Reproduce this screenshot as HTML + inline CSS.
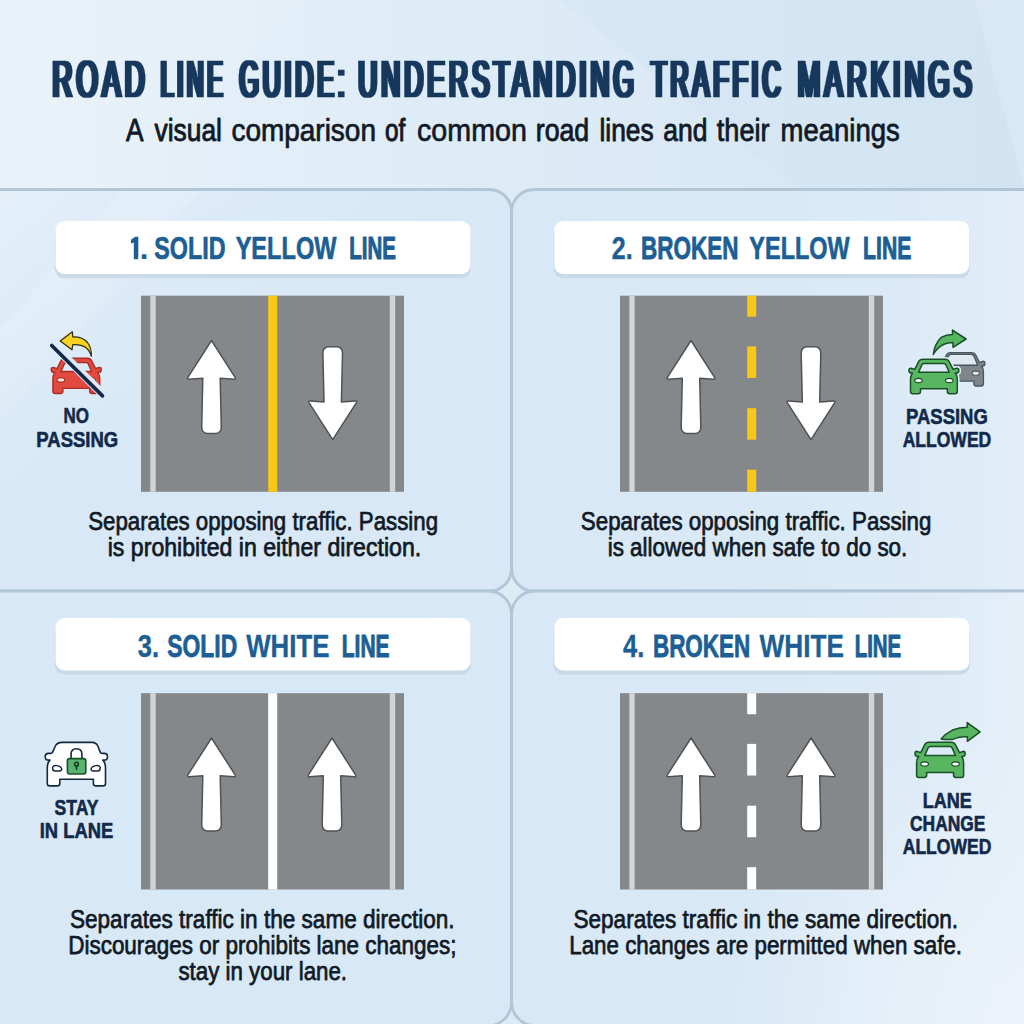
<!DOCTYPE html>
<html><head><meta charset="utf-8"><title>Road Line Guide</title>
<style>
html,body{margin:0;padding:0;background:#dcebf7;}
body{width:1024px;height:1024px;overflow:hidden;font-family:"Liberation Sans",sans-serif;}
svg{display:block;}
text{font-family:"Liberation Sans",sans-serif;}
</style></head><body>
<svg width="1024" height="1024" viewBox="0 0 1024 1024">
<defs>
<filter id="fat2" filterUnits="userSpaceOnUse" x="0" y="40" width="1024" height="80"><feMorphology operator="dilate" radius="2 0"/></filter>
<linearGradient id="bg" gradientUnits="userSpaceOnUse" x1="0" y1="0" x2="1024" y2="0">
<stop offset="0" stop-color="#e8f1f9"/><stop offset="0.45" stop-color="#deecf7"/><stop offset="1" stop-color="#d3e5f3"/>
</linearGradient>
<linearGradient id="pbg1" gradientUnits="userSpaceOnUse" x1="0" y1="190" x2="260" y2="520">
<stop offset="0" stop-color="#e4eff8"/><stop offset="0.35" stop-color="#dcebf7"/><stop offset="0.7" stop-color="#d8e8f6"/><stop offset="1" stop-color="#d8e8f6"/>
</linearGradient>
<linearGradient id="pbg2" gradientUnits="userSpaceOnUse" x1="512" y1="0" x2="1024" y2="0">
<stop offset="0" stop-color="#d8e8f6"/><stop offset="0.55" stop-color="#d9e9f6"/><stop offset="0.8" stop-color="#dcebf7"/><stop offset="1" stop-color="#e2edf8"/>
</linearGradient>
<linearGradient id="pbg3" gradientUnits="userSpaceOnUse" x1="0" y1="0" x2="512" y2="0">
<stop offset="0" stop-color="#dae9f6"/><stop offset="0.3" stop-color="#d7e8f6"/><stop offset="1" stop-color="#d8e8f6"/>
</linearGradient>
<linearGradient id="pbg4" gradientUnits="userSpaceOnUse" x1="512" y1="0" x2="1024" y2="0">
<stop offset="0" stop-color="#d8e8f6"/><stop offset="0.55" stop-color="#d9e9f6"/><stop offset="0.8" stop-color="#ddebf7"/><stop offset="1" stop-color="#e5eff8"/>
</linearGradient>
<radialGradient id="brc" gradientUnits="userSpaceOnUse" cx="1024" cy="1024" r="300">
<stop offset="0" stop-color="#ecf3fa" stop-opacity="1"/><stop offset="1" stop-color="#ecf3fa" stop-opacity="0"/>
</radialGradient>
<g id="arrow">
<path d="M0,-0.2 L23.6,36.7 Q24.5,38.6 22.7,38.5 L8.7,37.5 L9.8,86.2 Q9.8,92.7 3.5,92.7 L-3.5,92.7 Q-9.8,92.7 -9.8,86.2 L-8.7,37.5 L-22.7,38.5 Q-24.5,38.6 -23.6,36.7 Z" fill="#ffffff" stroke="#505255" stroke-width="1.5" stroke-linejoin="round"/>
</g>
</defs>
<rect width="1024" height="1024" fill="url(#bg)"/>
<polygon points="0,0 300,0 0,330" fill="#ffffff" opacity="0.10"/>
<polygon points="560,0 1024,0 1024,190 800,190" fill="#cfe2f2" opacity="0.30"/>
<polygon points="975,0 1024,0 1024,190" fill="#ffffff" opacity="0.15"/>

<g stroke="#b1c6d7" stroke-width="2.8">
<rect x="-40" y="189.5" width="551.6" height="401.5" rx="22.5" fill="url(#pbg1)"/>
<rect x="511.6" y="189.5" width="560" height="401.5" rx="22.5" fill="url(#pbg2)"/>
<rect x="-40" y="591" width="551.6" height="434.7" rx="23.5" fill="url(#pbg3)"/>
<rect x="511.6" y="591" width="560" height="434.7" rx="23.5" fill="url(#pbg4)"/>
</g>
<polygon points="0,330 120,191 200,191 0,420" fill="#ffffff" opacity="0.12"/>
<rect x="700" y="700" width="324" height="324" fill="url(#brc)"/>
<g font-size="51.2" font-weight="normal" fill="#17375c" stroke="#17375c" stroke-width="0.5" stroke-linejoin="round" filter="url(#fat2)" letter-spacing="8">
<text x="52.50" y="97.40" textLength="96.45" lengthAdjust="spacingAndGlyphs">ROAD</text>
<text x="160.67" y="97.40" textLength="65.41" lengthAdjust="spacingAndGlyphs">LINE</text>
<text x="239.40" y="97.40" textLength="109.12" lengthAdjust="spacingAndGlyphs">GUIDE:</text>
<text x="358.33" y="97.40" textLength="279.77" lengthAdjust="spacingAndGlyphs">UNDERSTANDING</text>
<text x="651.29" y="97.40" textLength="133.23" lengthAdjust="spacingAndGlyphs">TRAFFIC</text>
<text x="797.83" y="97.40" textLength="178.19" lengthAdjust="spacingAndGlyphs">MARKINGS</text>
</g>
<g font-size="31.4" font-weight="normal" fill="#111a26" stroke="#111a26" stroke-width="0.8" stroke-linejoin="round">
<text x="126.10" y="140.50" textLength="17.50" lengthAdjust="spacingAndGlyphs" stroke-width="0.90">A</text>
<text x="154.56" y="140.50" textLength="67.36" lengthAdjust="spacingAndGlyphs" stroke-width="0.89">visual</text>
<text x="231.48" y="140.50" textLength="144.46" lengthAdjust="spacingAndGlyphs" stroke-width="0.74">comparison</text>
<text x="384.92" y="140.50" textLength="20.25" lengthAdjust="spacingAndGlyphs" stroke-width="1.08">of</text>
<text x="417.02" y="140.50" textLength="109.91" lengthAdjust="spacingAndGlyphs" stroke-width="0.67">common</text>
<text x="535.76" y="140.50" textLength="53.44" lengthAdjust="spacingAndGlyphs" stroke-width="0.86">road</text>
<text x="599.47" y="140.50" textLength="54.13" lengthAdjust="spacingAndGlyphs" stroke-width="0.89">lines</text>
<text x="663.31" y="140.50" textLength="44.21" lengthAdjust="spacingAndGlyphs" stroke-width="0.88">and</text>
<text x="716.80" y="140.50" textLength="52.74" lengthAdjust="spacingAndGlyphs" stroke-width="0.82">their</text>
<text x="780.57" y="140.50" textLength="119.24" lengthAdjust="spacingAndGlyphs" stroke-width="0.78">meanings</text>
</g>
<rect x="54.7" y="225.2" width="416.2" height="53" rx="9.5" fill="#cbdae7"/>
<rect x="55.5" y="221" width="415.0" height="53" rx="9" fill="#ffffff"/>
<rect x="553.5" y="225.2" width="416.2" height="53" rx="9.5" fill="#cbdae7"/>
<rect x="554.3" y="221" width="415.0" height="53" rx="9" fill="#ffffff"/>
<rect x="54.7" y="622.2" width="416.2" height="52.5" rx="9.5" fill="#cbdae7"/>
<rect x="55.5" y="618" width="415.0" height="52.5" rx="9" fill="#ffffff"/>
<rect x="553.5" y="622.2" width="416.2" height="52.5" rx="9.5" fill="#cbdae7"/>
<rect x="554.3" y="618" width="415.0" height="52.5" rx="9" fill="#ffffff"/>
<path d="M138.3,236.7 L138.3,259.2 L133.8,259.2 L133.8,242.4 L131,243.6 L131,239.7 L135.2,236.7 Z" fill="#1d5f94"/>
<g font-size="32.2" font-weight="bold" fill="#1d5f94" stroke="#1d5f94" stroke-width="0.65" stroke-linejoin="round">
<text x="139.68" y="259.00" textLength="8.57" lengthAdjust="spacingAndGlyphs" stroke-width="0.15">.</text>
<text x="154.29" y="259.00" textLength="71.22" lengthAdjust="spacingAndGlyphs" stroke-width="0.73">SOLID</text>
<text x="235.64" y="259.00" textLength="100.84" lengthAdjust="spacingAndGlyphs" stroke-width="0.69">YELLOW</text>
<text x="349.21" y="259.00" textLength="46.62" lengthAdjust="spacingAndGlyphs" stroke-width="1.15">LINE</text>
</g>
<g font-size="32.2" font-weight="bold" fill="#1d5f94" stroke="#1d5f94" stroke-width="0.65" stroke-linejoin="round">
<text x="611.87" y="259.00" textLength="20.87" lengthAdjust="spacingAndGlyphs" stroke-width="0.47">2.</text>
<text x="641.12" y="259.00" textLength="97.47" lengthAdjust="spacingAndGlyphs" stroke-width="0.85">BROKEN</text>
<text x="749.35" y="259.00" textLength="100.32" lengthAdjust="spacingAndGlyphs" stroke-width="0.71">YELLOW</text>
<text x="863.11" y="259.00" textLength="48.19" lengthAdjust="spacingAndGlyphs" stroke-width="1.05">LINE</text>
</g>
<g font-size="32.2" font-weight="bold" fill="#1d5f94" stroke="#1d5f94" stroke-width="0.65" stroke-linejoin="round">
<text x="137.82" y="656.75" textLength="21.23" lengthAdjust="spacingAndGlyphs" stroke-width="0.41">3.</text>
<text x="167.24" y="656.75" textLength="69.93" lengthAdjust="spacingAndGlyphs" stroke-width="0.79">SOLID</text>
<text x="246.15" y="656.75" textLength="83.29" lengthAdjust="spacingAndGlyphs" stroke-width="0.35">WHITE</text>
<text x="341.85" y="656.75" textLength="47.63" lengthAdjust="spacingAndGlyphs" stroke-width="1.09">LINE</text>
</g>
<g font-size="32.2" font-weight="bold" fill="#1d5f94" stroke="#1d5f94" stroke-width="0.65" stroke-linejoin="round">
<text x="623.00" y="656.75" textLength="21.37" lengthAdjust="spacingAndGlyphs" stroke-width="0.38">4.</text>
<text x="652.92" y="656.75" textLength="97.36" lengthAdjust="spacingAndGlyphs" stroke-width="0.85">BROKEN</text>
<text x="759.52" y="656.75" textLength="84.35" lengthAdjust="spacingAndGlyphs" stroke-width="0.30">WHITE</text>
<text x="854.71" y="656.75" textLength="46.51" lengthAdjust="spacingAndGlyphs" stroke-width="1.15">LINE</text>
</g>
<rect x="141" y="295.7" width="263" height="196.10000000000002" fill="#85888b"/>
<rect x="150.3" y="295.7" width="5.4" height="196.10000000000002" fill="#d3d4d5"/>
<rect x="389.8" y="295.7" width="5.4" height="196.10000000000002" fill="#d3d4d5"/>
<rect x="268.2" y="295.7" width="9" height="196.10000000000002" fill="#f9c716"/>
<use href="#arrow" transform="translate(211.5,340.7)"/>
<use href="#arrow" transform="translate(332.7,439.5) scale(1,-1)"/>
<rect x="620" y="295.7" width="263" height="196.10000000000002" fill="#85888b"/>
<rect x="629.3" y="295.7" width="5.4" height="196.10000000000002" fill="#d3d4d5"/>
<rect x="868.8" y="295.7" width="5.4" height="196.10000000000002" fill="#d3d4d5"/>
<rect x="747.2" y="295.7" width="9" height="21" fill="#f9c716"/>
<rect x="747.2" y="346.4" width="9" height="31.599999999999994" fill="#f9c716"/>
<rect x="747.2" y="408.2" width="9" height="31.5" fill="#f9c716"/>
<rect x="747.2" y="469.7" width="9" height="22.100000000000023" fill="#f9c716"/>
<use href="#arrow" transform="translate(691,340.7)"/>
<use href="#arrow" transform="translate(811,439.5) scale(1,-1)"/>
<rect x="141" y="693.2" width="263" height="196.29999999999995" fill="#85888b"/>
<rect x="150.3" y="693.2" width="5.4" height="196.29999999999995" fill="#d3d4d5"/>
<rect x="389.8" y="693.2" width="5.4" height="196.29999999999995" fill="#d3d4d5"/>
<rect x="268.2" y="693.2" width="9" height="196.29999999999995" fill="#ffffff"/>
<use href="#arrow" transform="translate(211.5,738.2)"/>
<use href="#arrow" transform="translate(332,738.2)"/>
<rect x="620" y="693.2" width="263" height="196.29999999999995" fill="#85888b"/>
<rect x="629.3" y="693.2" width="5.4" height="196.29999999999995" fill="#d3d4d5"/>
<rect x="868.8" y="693.2" width="5.4" height="196.29999999999995" fill="#d3d4d5"/>
<rect x="747.2" y="693.2" width="9" height="21" fill="#ffffff"/>
<rect x="747.2" y="743.9000000000001" width="9" height="31.599999999999994" fill="#ffffff"/>
<rect x="747.2" y="805.7" width="9" height="31.5" fill="#ffffff"/>
<rect x="747.2" y="867.2" width="9" height="22.299999999999955" fill="#ffffff"/>
<use href="#arrow" transform="translate(691,738.2)"/>
<use href="#arrow" transform="translate(811,738.2)"/>
<g font-size="26.5" font-weight="normal" fill="#111a26" stroke="#111a26" stroke-width="0.75" stroke-linejoin="round">
<text x="88.16" y="530.30" textLength="349.90" lengthAdjust="spacingAndGlyphs">Separates opposing traffic. Passing</text>
</g>
<g font-size="26.5" font-weight="normal" fill="#111a26" stroke="#111a26" stroke-width="0.75" stroke-linejoin="round">
<text x="107.73" y="556.25" textLength="313.51" lengthAdjust="spacingAndGlyphs">is prohibited in either direction.</text>
</g>
<g font-size="26.5" font-weight="normal" fill="#111a26" stroke="#111a26" stroke-width="0.75" stroke-linejoin="round">
<text x="580.86" y="530.30" textLength="350.50" lengthAdjust="spacingAndGlyphs">Separates opposing traffic. Passing</text>
</g>
<g font-size="26.5" font-weight="normal" fill="#111a26" stroke="#111a26" stroke-width="0.75" stroke-linejoin="round">
<text x="607.67" y="556.25" textLength="299.70" lengthAdjust="spacingAndGlyphs">is allowed when safe to do so.</text>
</g>
<g font-size="26.5" font-weight="normal" fill="#111a26" stroke="#111a26" stroke-width="0.75" stroke-linejoin="round">
<text x="69.95" y="927.60" textLength="384.64" lengthAdjust="spacingAndGlyphs">Separates traffic in the same direction.</text>
</g>
<g font-size="26.5" font-weight="normal" fill="#111a26" stroke="#111a26" stroke-width="0.75" stroke-linejoin="round">
<text x="68.23" y="953.60" textLength="388.21" lengthAdjust="spacingAndGlyphs">Discourages or prohibits lane changes;</text>
</g>
<g font-size="26.5" font-weight="normal" fill="#111a26" stroke="#111a26" stroke-width="0.75" stroke-linejoin="round">
<text x="178.45" y="980.40" textLength="168.61" lengthAdjust="spacingAndGlyphs">stay in your lane.</text>
</g>
<g font-size="26.5" font-weight="normal" fill="#111a26" stroke="#111a26" stroke-width="0.75" stroke-linejoin="round">
<text x="573.45" y="927.60" textLength="384.64" lengthAdjust="spacingAndGlyphs">Separates traffic in the same direction.</text>
</g>
<g font-size="26.5" font-weight="normal" fill="#111a26" stroke="#111a26" stroke-width="0.75" stroke-linejoin="round">
<text x="569.24" y="953.60" textLength="392.83" lengthAdjust="spacingAndGlyphs">Lane changes are permitted when safe.</text>
</g>
<g font-size="22" font-weight="bold" fill="#12294a" stroke="#12294a" stroke-width="0.6" stroke-linejoin="round">
<text x="63.47" y="422.90" textLength="25.45" lengthAdjust="spacingAndGlyphs">NO</text>
</g>
<g font-size="22" font-weight="bold" fill="#12294a" stroke="#12294a" stroke-width="0.6" stroke-linejoin="round">
<text x="36.36" y="447.20" textLength="81.88" lengthAdjust="spacingAndGlyphs">PASSING</text>
</g>
<g font-size="22" font-weight="bold" fill="#12294a" stroke="#12294a" stroke-width="0.6" stroke-linejoin="round">
<text x="906.06" y="423.60" textLength="81.78" lengthAdjust="spacingAndGlyphs">PASSING</text>
</g>
<g font-size="22" font-weight="bold" fill="#12294a" stroke="#12294a" stroke-width="0.6" stroke-linejoin="round">
<text x="902.66" y="447.00" textLength="88.57" lengthAdjust="spacingAndGlyphs">ALLOWED</text>
</g>
<g font-size="22" font-weight="bold" fill="#12294a" stroke="#12294a" stroke-width="0.6" stroke-linejoin="round">
<text x="54.59" y="815.00" textLength="43.89" lengthAdjust="spacingAndGlyphs">STAY</text>
</g>
<g font-size="22" font-weight="bold" fill="#12294a" stroke="#12294a" stroke-width="0.6" stroke-linejoin="round">
<text x="39.77" y="838.30" textLength="73.55" lengthAdjust="spacingAndGlyphs">IN LANE</text>
</g>
<g font-size="22" font-weight="bold" fill="#12294a" stroke="#12294a" stroke-width="0.6" stroke-linejoin="round">
<text x="922.79" y="807.50" textLength="49.11" lengthAdjust="spacingAndGlyphs">LANE</text>
</g>
<g font-size="22" font-weight="bold" fill="#12294a" stroke="#12294a" stroke-width="0.6" stroke-linejoin="round">
<text x="909.99" y="831.10" textLength="75.50" lengthAdjust="spacingAndGlyphs">CHANGE</text>
</g>
<g font-size="22" font-weight="bold" fill="#12294a" stroke="#12294a" stroke-width="0.6" stroke-linejoin="round">
<text x="902.76" y="854.40" textLength="88.57" lengthAdjust="spacingAndGlyphs">ALLOWED</text>
</g>
<g transform="translate(51.3,358.2) scale(1.0,1.02)"><path d="M14,0 L36,0 Q39.2,0 40.4,2.6 L44.2,10.2 L47.8,9 Q50,8.8 50,11.3 Q50,13.9 47.4,13.9 L46.4,13.9 Q48.4,16.5 48.4,19.5 L48.4,32.4 Q48.4,34.6 46.2,34.6 L40.6,34.6 Q38.4,34.6 38.4,32.4 L38.4,29.6 L11.6,29.6 L11.6,32.4 Q11.6,34.6 9.4,34.6 L3.8,34.6 Q1.6,34.6 1.6,32.4 L1.6,19.5 Q1.6,16.5 3.6,13.9 L2.6,13.9 Q0,13.9 0,11.3 Q0,8.8 2.2,9 L5.8,10.2 L9.6,2.6 Q10.8,0 14,0 Z" fill="#e24a3f" stroke="#a82e27" stroke-width="1.4" stroke-linejoin="round"/><path d="M15.3,4.3 L34.7,4.3 Q36.4,4.3 37.1,5.8 L40.3,13.1 L9.7,13.1 L12.9,5.8 Q13.6,4.3 15.3,4.3 Z" fill="#dcebf7" stroke="#a82e27" stroke-width="1.4" stroke-linejoin="round"/><ellipse cx="9.6" cy="21.3" rx="3.8" ry="2.1" fill="#f3e9e6" stroke="#a82e27" stroke-width="1.1199999999999999"/><ellipse cx="40.4" cy="21.3" rx="3.8" ry="2.1" fill="#f3e9e6" stroke="#a82e27" stroke-width="1.1199999999999999"/></g>
<path d="M60.2,341 L72.4,331.8 L72.8,336.9 Q82.5,336.6 87.5,342.5 Q91.5,347.5 91.4,356.4 Q89.5,350.5 86,347.8 Q81,344.2 72.8,344.7 L72,349.8 Z" fill="#f7d21e" stroke="#2e2b12" stroke-width="1.2" stroke-linejoin="round"/>
<line x1="53.2" y1="344.9" x2="103.6" y2="394.9" stroke="#dcebf7" stroke-width="8.4" stroke-linecap="round"/>
<line x1="51.7" y1="345.5" x2="102.5" y2="395.9" stroke="#14284a" stroke-width="3.6" stroke-linecap="round"/>
<g transform="translate(937.2,352.6) scale(0.955,0.965)"><path d="M14,0 L36,0 Q39.2,0 40.4,2.6 L44.2,10.2 L47.8,9 Q50,8.8 50,11.3 Q50,13.9 47.4,13.9 L46.4,13.9 Q48.4,16.5 48.4,19.5 L48.4,32.4 Q48.4,34.6 46.2,34.6 L40.6,34.6 Q38.4,34.6 38.4,32.4 L38.4,29.6 L11.6,29.6 L11.6,32.4 Q11.6,34.6 9.4,34.6 L3.8,34.6 Q1.6,34.6 1.6,32.4 L1.6,19.5 Q1.6,16.5 3.6,13.9 L2.6,13.9 Q0,13.9 0,11.3 Q0,8.8 2.2,9 L5.8,10.2 L9.6,2.6 Q10.8,0 14,0 Z" fill="#7e858b" stroke="#4a5560" stroke-width="1.4" stroke-linejoin="round"/><path d="M14.5,1.9 L35.5,1.9 Q37.6,1.9 38.6,3.9 L42.4,13.1 L7.6,13.1 L11.4,3.9 Q12.4,1.9 14.5,1.9 Z" fill="#dfe8f1" stroke="#4a5560" stroke-width="1.4" stroke-linejoin="round"/><ellipse cx="9.6" cy="21.3" rx="3.8" ry="2.1" fill="#eef2f5" stroke="#4a5560" stroke-width="1.1199999999999999"/><ellipse cx="40.4" cy="21.3" rx="3.8" ry="2.1" fill="#eef2f5" stroke="#4a5560" stroke-width="1.1199999999999999"/></g>
<g transform="translate(908.9,359.2) scale(1.0,1.0)"><path d="M14,0 L36,0 Q39.2,0 40.4,2.6 L44.2,10.2 L47.8,9 Q50,8.8 50,11.3 Q50,13.9 47.4,13.9 L46.4,13.9 Q48.4,16.5 48.4,19.5 L48.4,32.4 Q48.4,34.6 46.2,34.6 L40.6,34.6 Q38.4,34.6 38.4,32.4 L38.4,29.6 L11.6,29.6 L11.6,32.4 Q11.6,34.6 9.4,34.6 L3.8,34.6 Q1.6,34.6 1.6,32.4 L1.6,19.5 Q1.6,16.5 3.6,13.9 L2.6,13.9 Q0,13.9 0,11.3 Q0,8.8 2.2,9 L5.8,10.2 L9.6,2.6 Q10.8,0 14,0 Z" fill="#e2eef8" stroke="#e2eef8" stroke-width="4.5" stroke-linejoin="round"/><path d="M14,0 L36,0 Q39.2,0 40.4,2.6 L44.2,10.2 L47.8,9 Q50,8.8 50,11.3 Q50,13.9 47.4,13.9 L46.4,13.9 Q48.4,16.5 48.4,19.5 L48.4,32.4 Q48.4,34.6 46.2,34.6 L40.6,34.6 Q38.4,34.6 38.4,32.4 L38.4,29.6 L11.6,29.6 L11.6,32.4 Q11.6,34.6 9.4,34.6 L3.8,34.6 Q1.6,34.6 1.6,32.4 L1.6,19.5 Q1.6,16.5 3.6,13.9 L2.6,13.9 Q0,13.9 0,11.3 Q0,8.8 2.2,9 L5.8,10.2 L9.6,2.6 Q10.8,0 14,0 Z" fill="#58b661" stroke="#1a4f2a" stroke-width="1.5" stroke-linejoin="round"/><path d="M15.3,4.3 L34.7,4.3 Q36.4,4.3 37.1,5.8 L40.3,13.1 L9.7,13.1 L12.9,5.8 Q13.6,4.3 15.3,4.3 Z" fill="#dcebf7" stroke="#1a4f2a" stroke-width="1.5" stroke-linejoin="round"/><ellipse cx="9.6" cy="21.3" rx="3.8" ry="2.1" fill="#ffffff" stroke="#1a4f2a" stroke-width="1.2000000000000002"/><ellipse cx="40.4" cy="21.3" rx="3.8" ry="2.1" fill="#ffffff" stroke="#1a4f2a" stroke-width="1.2000000000000002"/></g>
<path d="M933.3,354.5 Q934.5,344 941.3,337.3 Q946,334.6 952.5,334.5 L952.5,330.1 L966.1,339 L953,347.4 L953,342.4 Q947.5,342.6 944,344.2 Q937,347.5 933.3,354.5 Z" fill="#58b661" stroke="#1a4f2a" stroke-width="1.5" stroke-linejoin="round"/>
<path d="M61.8,742.4 L92.2,742.4 Q96.2,742.6 97.8,746 L100.3,752.4 Q100.8,753.4 102,753.4 L104.2,753.4 Q107.5,753.4 107.5,756.7 Q107.5,760.1 104,760.1 L102.8,760.1 Q105.5,763 105.5,767 L105.5,783.4 Q105.5,785.9 103,785.9 L96,785.9 Q93.4,785.9 93.4,783.4 L93.4,779.3 L59.8,779.3 L59.8,783.4 Q59.8,785.9 57.2,785.9 L49.8,785.9 Q47.3,785.9 47.3,783.4 L47.3,767 Q47.3,763 50,760.1 L48.7,760.1 Q45.2,760.1 45.2,756.7 Q45.2,753.4 48.5,753.4 L50.8,753.4 Q52,753.4 52.5,752.4 L55.4,746 Q57.2,742.6 61.8,742.4 Z" fill="#ffffff" stroke="#13283f" stroke-width="1.6" stroke-linejoin="round"/>
<path d="M52.6,767.2 Q53.4,765.2 57,765.6 Q61,766.2 61.8,769.2 Q61.6,771 59.4,771 L54.4,771 Q52.4,770.6 52.6,767.2 Z" fill="#ffffff" stroke="#13283f" stroke-width="1.4" stroke-linejoin="round"/>
<path d="M100.2,767.2 Q99.4,765.2 95.8,765.6 Q91.8,766.2 91,769.2 Q91.2,771 93.4,771 L98.4,771 Q100.4,770.6 100.2,767.2 Z" fill="#ffffff" stroke="#13283f" stroke-width="1.4" stroke-linejoin="round"/>
<path d="M71.1,758.6 L71.1,754 Q71.1,748.7 76.5,748.7 Q81.9,748.7 81.9,754 L81.9,758.6" fill="none" stroke="#13283f" stroke-width="1.6"/>
<rect x="67.4" y="758.6" width="18.4" height="15.4" rx="2.2" fill="#5bb26f" stroke="#15512c" stroke-width="1.6"/>
<circle cx="76.5" cy="764.2" r="1.9" fill="#5bb26f" stroke="#0f3d22" stroke-width="1.5"/>
<line x1="76.5" y1="766" x2="76.5" y2="769.6" stroke="#0f3d22" stroke-width="1.5" stroke-linecap="round"/>
<g transform="translate(915,742.2) scale(1.004,1.023)"><path d="M14,0 L36,0 Q39.2,0 40.4,2.6 L44.2,10.2 L47.8,9 Q50,8.8 50,11.3 Q50,13.9 47.4,13.9 L46.4,13.9 Q48.4,16.5 48.4,19.5 L48.4,32.4 Q48.4,34.6 46.2,34.6 L40.6,34.6 Q38.4,34.6 38.4,32.4 L38.4,29.6 L11.6,29.6 L11.6,32.4 Q11.6,34.6 9.4,34.6 L3.8,34.6 Q1.6,34.6 1.6,32.4 L1.6,19.5 Q1.6,16.5 3.6,13.9 L2.6,13.9 Q0,13.9 0,11.3 Q0,8.8 2.2,9 L5.8,10.2 L9.6,2.6 Q10.8,0 14,0 Z" fill="#58b661" stroke="#1a4f2a" stroke-width="1.5" stroke-linejoin="round"/><path d="M15.3,4.3 L34.7,4.3 Q36.4,4.3 37.1,5.8 L40.3,13.1 L9.7,13.1 L12.9,5.8 Q13.6,4.3 15.3,4.3 Z" fill="#dcebf7" stroke="#1a4f2a" stroke-width="1.5" stroke-linejoin="round"/><ellipse cx="9.6" cy="21.3" rx="3.8" ry="2.1" fill="#ffffff" stroke="#1a4f2a" stroke-width="1.2000000000000002"/><ellipse cx="40.4" cy="21.3" rx="3.8" ry="2.1" fill="#ffffff" stroke="#1a4f2a" stroke-width="1.2000000000000002"/></g>
<path d="M941.1,738.9 Q945.5,733.5 952.1,730.3 Q959,727.4 967.2,727.3 L967.2,722.6 L980.1,731.9 L967.4,741.3 L967.4,736.8 Q962,736.6 958,737.6 Q954.5,738.6 952.1,739.6 L944.4,739.6 Z" fill="#58b661" stroke="#1a4f2a" stroke-width="1.5" stroke-linejoin="round"/>
</svg></body></html>
